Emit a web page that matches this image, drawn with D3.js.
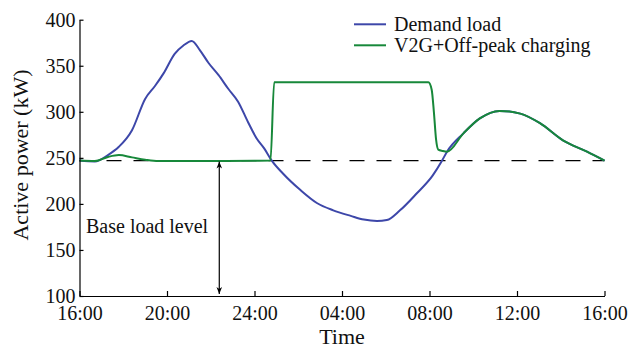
<!DOCTYPE html>
<html>
<head>
<meta charset="utf-8">
<script src="https://cdn.jsdelivr.net/npm/d3@7"></script>
<style>
  body { margin: 0; background: #fff; }
  svg text { font-family: "Liberation Serif", "Times New Roman", serif; fill: #111; }
</style>
</head>
<body>
<svg id="chart" width="630" height="349"></svg>
<script>
// hours after 16:00, active power (kW)
var demandLoad = [
  [0, 247], [0.7, 246], [1.3, 253], [1.8, 262], [2.4, 280], [3.0, 314], [3.45, 328],
  [3.85, 342], [4.35, 363], [4.75, 372], [5.13, 377], [5.5, 367], [5.9, 353], [6.35, 340],
  [6.8, 325], [7.25, 311], [7.7, 289], [8.1, 271], [8.45, 260], [8.79, 247], [9.3, 233],
  [10.1, 215], [10.85, 201], [11.6, 193], [12.4, 187], [13.0, 183], [13.6, 181.5],
  [14.05, 182.5], [14.65, 193], [15.4, 211], [16.15, 231], [16.55, 246], [16.8, 256.7],
  [17.55, 276.6], [18.3, 292.8], [19.2, 301], [20.15, 298], [21.05, 287.6], [22.1, 269],
  [23.2, 256.7], [24, 247]
];
var v2gLoad = [
  [0, 247], [0.7, 246.5], [1.3, 251], [1.8, 253], [2.4, 250.5], [3.0, 248], [3.6, 246.5],
  [5, 246.5], [6.4, 246.5], [8, 246.8], [8.73, 247], [8.9, 332], [15.95, 332], [16.1, 324],
  [16.2, 300], [16.3, 270], [16.4, 259], [16.6, 257.5], [16.8, 256.7],
  [17.55, 276.6], [18.3, 292.8], [19.2, 301], [20.15, 298], [21.05, 287.6], [22.1, 269],
  [23.2, 256.7], [24, 247]
];
var baseLevel = 247;
var arrowHour = 6.39;
var xTicks = [0, 4, 8, 12, 16, 20, 24];
var xTickLabels = ["16:00", "20:00", "24:00", "04:00", "08:00", "12:00", "16:00"];
var yTicks = [100, 150, 200, 250, 300, 350, 400];
var seriesNames = ["Demand load", "V2G+Off-peak charging"];
var seriesColors = ["#3d47a9", "#17883a"];

var svg = d3.select("#chart");
var margin = {left: 79.5, right: 25.5, top: 19.7, bottom: 53};
var W = 630, H = 349;

var x = d3.scaleLinear().domain([0, 24]).range([margin.left, W - margin.right]);
var y = d3.scaleLinear().domain([100, 400]).range([H - margin.bottom, margin.top]);

svg.append("defs").append("marker")
  .attr("id", "arr")
  .attr("viewBox", "0 0 10 10")
  .attr("refX", 10).attr("refY", 5)
  .attr("markerWidth", 7).attr("markerHeight", 7)
  .attr("markerUnits", "userSpaceOnUse")
  .attr("orient", "auto-start-reverse")
  .append("path").attr("d", "M0,1 L10,5 L0,9 L3,5 Z").attr("fill", "#000");

// dashed base line
svg.append("line")
  .attr("x1", x(0)).attr("x2", x(24))
  .attr("y1", y(baseLevel)).attr("y2", y(baseLevel))
  .attr("stroke", "#000").attr("stroke-width", 1.2)
  .attr("stroke-dasharray", "15,12");

var line = d3.line()
  .x(function(d){ return x(d[0]); })
  .y(function(d){ return y(d[1]); })
  .curve(d3.curveMonotoneX);

svg.append("path").datum(demandLoad)
  .attr("d", line).attr("fill", "none")
  .attr("stroke", seriesColors[0]).attr("stroke-width", 2);

svg.append("path").datum(v2gLoad)
  .attr("d", line).attr("fill", "none")
  .attr("stroke", seriesColors[1]).attr("stroke-width", 2);

// arrow
svg.append("line")
  .attr("x1", x(arrowHour)).attr("x2", x(arrowHour))
  .attr("y1", y(baseLevel) + 1).attr("y2", y(100) - 2)
  .attr("stroke", "#000").attr("stroke-width", 1.2)
  .attr("marker-start", "url(#arr)").attr("marker-end", "url(#arr)");

svg.append("text").attr("x", 86).attr("y", 233)
  .attr("font-size", 20).text("Base load level");

// axes
var xAxis = d3.axisBottom(x).tickValues(xTicks)
  .tickFormat(function(d, i){ return xTickLabels[i]; })
  .tickSizeInner(-5).tickSizeOuter(0).tickPadding(10);
var gx = svg.append("g").attr("transform", "translate(0," + y(100) + ")").call(xAxis);

var yAxis = d3.axisLeft(y).tickValues(yTicks)
  .tickSizeInner(-4).tickSizeOuter(0).tickPadding(4);
var gy = svg.append("g").attr("transform", "translate(" + x(0) + ",0)").call(yAxis);

[gx, gy].forEach(function(g){
  g.selectAll("path, line").attr("stroke", "#000").attr("stroke-width", 1.2);
  g.selectAll("text").attr("font-size", 20)
    .attr("font-family", "Liberation Serif, Times New Roman, serif").attr("fill", "#111");
});

svg.append("text").attr("x", (x(0) + x(24)) / 2).attr("y", 344)
  .attr("text-anchor", "middle").attr("font-size", 22).text("Time");

svg.append("text")
  .attr("transform", "translate(28," + 155 + ") rotate(-90)")
  .attr("text-anchor", "middle").attr("font-size", 22).text("Active power (kW)");

// legend
var legend = svg.append("g");
seriesNames.forEach(function(name, i){
  var ly = 24.3 + i * 21;
  legend.append("line").attr("x1", 354).attr("x2", 386)
    .attr("y1", ly).attr("y2", ly)
    .attr("stroke", seriesColors[i]).attr("stroke-width", 2);
  legend.append("text").attr("x", 394).attr("y", ly + 6.5)
    .attr("font-size", 20).text(name);
});
</script>
</body>
</html>
